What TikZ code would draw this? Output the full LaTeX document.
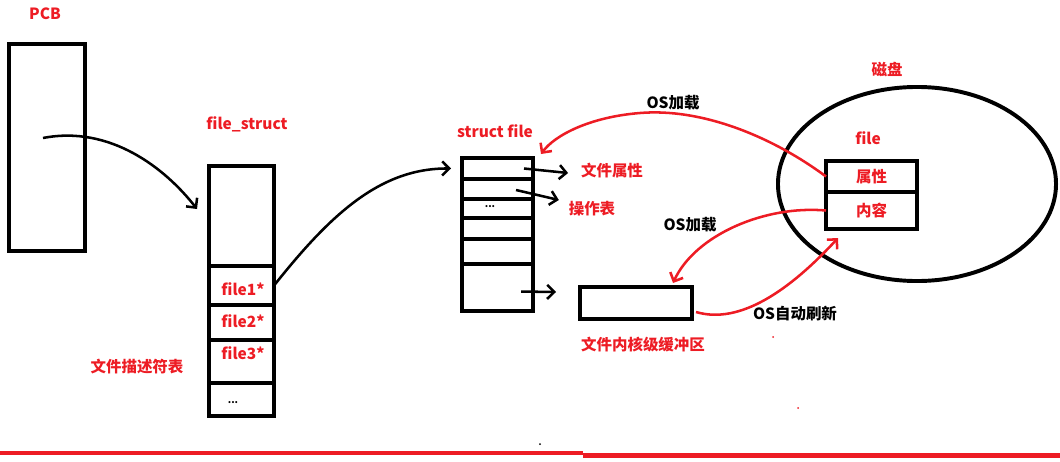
\documentclass[tikz,border=0pt]{standalone}
\usepackage{fontspec}
\setmainfont{Noto Sans CJK SC}
\usepackage{tikz}
\usetikzlibrary{arrows.meta, shapes.geometric}
\definecolor{paintred}{HTML}{ED1C24}

\begin{document}
\begin{tikzpicture}[x=0.025cm, y=-0.025cm,
    blk/.style={draw, line width=2.8pt, inner sep=0pt, outer sep=0pt, anchor=north west},
    tag/.style={text=paintred, font=\fontsize{11pt}{13pt}\selectfont\bfseries},
    note/.style={font=\fontsize{11pt}{13pt}\selectfont\bfseries},
    hand/.style={line width=1.8pt, -{Straight Barb[length=5pt, width=10pt]}},
    redhand/.style={hand, paintred}]
    \useasboundingbox (0,0) rectangle (1060,461);

    % PCB and file_struct
    \node[tag] (pcbtxt) at (45,14) {PCB};
    \node[blk, minimum width=1.9cm, minimum height=5.175cm] (pcb) at (9,44) {};
    \coordinate (pcbin) at (43,138);

    \node[tag] (fstxt) at (247,124) {file\_struct};
    \node[blk, minimum width=1.625cm, minimum height=2.5cm] (fstop) at (209,166) {};
    \node[blk, minimum width=1.625cm, minimum height=0.975cm] (fs1) at (fstop.south west) {};
    \node[blk, minimum width=1.625cm, minimum height=0.875cm] (fs2) at (fs1.south west) {};
    \node[blk, minimum width=1.625cm, minimum height=1.075cm] (fs3) at (fs2.south west) {};
    \node[blk, minimum width=1.625cm, minimum height=0.825cm] (fsdots) at (fs3.south west) {};
    \node[tag] (f1txt) at (243,289) {file1*};
    \node[tag] (f2txt) at (243,321) {file2*};
    \node[tag] (f3txt) at (243,353) {file3*};
    \node[font=\scriptsize\bfseries] (fsdtxt) at (233,403) {...};
    \node[tag] (fdtxt) at (137,367) {文件描述符表};

    % struct file
    \node[tag] (sftxt) at (495,131) {struct file};
    \node[blk, minimum width=1.775cm, minimum height=0.525cm] (sf1) at (462,158) {};
    \node[blk, minimum width=1.775cm, minimum height=0.5cm] (sf2) at (sf1.south west) {};
    \node[blk, minimum width=1.775cm, minimum height=0.475cm] (sf3) at (sf2.south west) {};
    \node[blk, minimum width=1.775cm, minimum height=0.525cm] (sf4) at (sf3.south west) {};
    \node[blk, minimum width=1.775cm, minimum height=0.625cm] (sf5) at (sf4.south west) {};
    \node[blk, minimum width=1.775cm, minimum height=1.175cm] (sf6) at (sf5.south west) {};
    \node[font=\scriptsize\bfseries] (sfdtxt) at (490,207) {...};
    \node[tag] (attrtxt) at (612,171) {文件属性};
    \node[tag] (optxt) at (592,209) {操作表};

    % kernel buffer
    \node[blk, minimum width=2.8cm, minimum height=0.8cm] (buf) at (580,287) {};
    \node[tag] (buftxt) at (643,345) {文件内核级缓冲区};

    % disk
    \node[tag] (disktxt) at (887,69) {磁盘};
    \node[draw, ellipse, line width=2.8pt, inner sep=0pt, minimum width=6.95cm, minimum height=4.85cm] (disk) at (917,184) {};
    \node[tag] (filetxt) at (868,138) {file};
    \node[blk, minimum width=2.275cm, minimum height=0.775cm, text=paintred, font=\fontsize{11pt}{13pt}\selectfont\bfseries] (attr) at (826,161) {属性};
    \node[blk, minimum width=2.275cm, minimum height=0.925cm, text=paintred, font=\fontsize{11pt}{13pt}\selectfont\bfseries] (content) at (attr.south west) {内容};

    % black arrows
    \draw[hand] (pcbin) .. controls (110,125) and (165,168) .. ([shift={(-12,-7)}]fstop.west);
    \draw[hand] (fs1.east) .. controls (330,215) and (380,168) .. ([shift={(-11,0)}]sf1.west);
    \draw[hand] ([shift={(-9,0)}]sf1.east) -- ([shift={(-8,2)}]attrtxt.west);
    \draw[hand] ([shift={(-17,1)}]sf2.east) -- ([shift={(-5,-9)}]optxt.west);
    \draw[hand] ([shift={(-12,4)}]sf6.east) -- ([shift={(-24,-11)}]buf.west);

    % red arrows
    \draw[redhand] (attr.west) .. controls (770,135) and (700,108) .. (640,113)
        .. controls (590,117) and (555,135) .. ([shift={(8,-4)}]sf1.north east);
    \draw[redhand] (content.west) .. controls (765,205) and (695,235) .. ([shift={(-19,-4)}]buf.north east);
    \draw[redhand] ([shift={(4,9)}]buf.east) .. controls (740,325) and (790,290) .. ([shift={(12,9)}]content.south west);
    \node[note] (load1) at (673,103) {OS加载};
    \node[note] (load2) at (690,225) {OS加载};
    \node[note] (flush) at (795,314) {OS自动刷新};

    % bottom line and stray dots
    \draw[paintred, line width=3.2pt] (0,453) -- (583,453);
    \draw[paintred, line width=3.2pt] (583,455.5) -- (1060,455.5);
    \fill[paintred] (773,337) circle (1);
    \fill[paintred] (798,408) circle (1);
    \fill (540,444) circle (1);
\end{tikzpicture}
\end{document}
